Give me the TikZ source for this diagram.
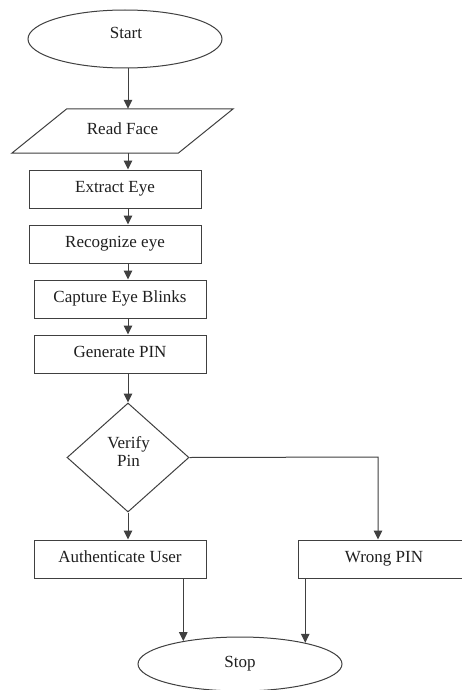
\documentclass[tikz,border=0pt]{standalone}
\usepackage{fontspec}
\setmainfont{Liberation Serif}
\usetikzlibrary{shapes.geometric,arrows.meta,calc}
\begin{document}
\begin{tikzpicture}[x=1pt,y=-1pt,
  every node/.style={font=\fontsize{17}{20}\selectfont, text=black!88,
    text height=12pt, text depth=6pt},
  wire/.style={draw=black!75, line width=1pt},
  arr/.style={wire, -{Triangle[length=9pt,width=8.5pt]}},
  procbox/.style={wire, rectangle, minimum width=172pt, minimum height=38pt, inner sep=0pt},
  term/.style={wire, ellipse, inner sep=0pt},
  decide/.style={wire, diamond, minimum width=122pt, minimum height=109pt, inner sep=0pt}
]
\useasboundingbox (0,0) rectangle (461,690);
\fill[white] (0,0) rectangle (461,690);

% main column of connectors
\coordinate (col) at (128,0);

% terminals, input and process steps
\node[term, minimum width=194pt, minimum height=58pt] (start) at (125,39) {};
\node (starttxt) at (126,36) {Start};

\node[minimum width=221pt, minimum height=44pt, inner sep=0pt] (read) at (122.5,131) {Read Face};
\draw[wire] (read.south west) -- ([xshift=55pt]read.north west) -- (read.north east)
  -- ([xshift=-55pt]read.south east) -- cycle;

\node[procbox] (extract) at (115,189) {Extract Eye};
\node[procbox] (recog)   at (115,244) {Recognize eye};
\node[procbox] (blinks)  at (120,299) {Capture Eye Blinks};
\node[procbox] (genpin)  at (120,354) {Generate PIN};

% decision
\node[decide] (verify) at (128,457.5) {};
\node[text height=12pt, text depth=4pt] (vtxt1) at (128.5,444) {Verify};
\node[text height=12pt, text depth=4pt] (vtxt2) at (128.5,462) {Pin};

\node[procbox] (auth)  at (120,559) {Authenticate User};
\node[procbox] (wrong) at (384,559) {Wrong PIN};

\node[term, minimum width=204pt, minimum height=54pt] (stop) at (240,664) {Stop};

% connectors
\draw[arr] (start.south -| col) -- (read.north -| col);
\draw[arr] (read.south -| col) -- (extract.north -| col);
\draw[arr] (extract.south -| col) -- (recog.north -| col);
\draw[arr] (recog.south -| col) -- (blinks.north -| col);
\draw[arr] (blinks.south -| col) -- (genpin.north -| col);
\draw[arr] (genpin.south -| col) -- (verify.north);
\draw[arr] (verify.south) -- (auth.north -| verify.south);

\coordinate (turn) at (378,457);
\draw[arr] (verify.east) -- (turn) -- (turn |- wrong.north);

\draw[arr] (stop.158.5 |- auth.south) -- (stop.158.5);
\draw[arr] (stop.18.6 |- wrong.south) -- (stop.18.6);
\end{tikzpicture}
\end{document}
